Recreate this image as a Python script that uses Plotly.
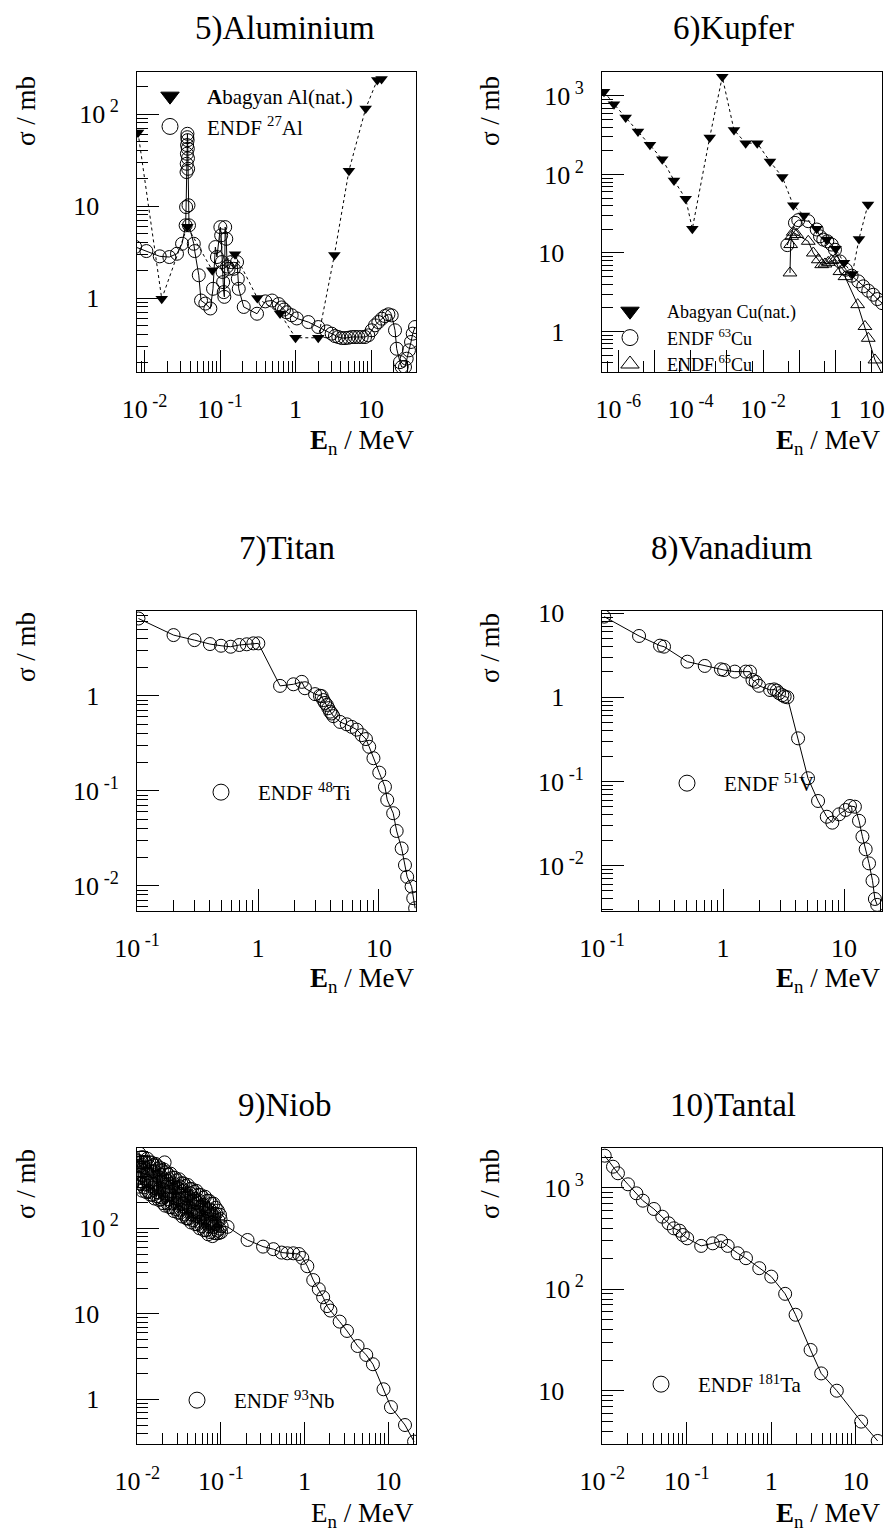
import plotly.graph_objects as go

FONT = "Liberation Serif, Times New Roman, serif"
W, H = 888, 1539
NB = "\u00a0"

# ---------------- data ----------------
# 5) Aluminium
al_abag_E = [0.0082, 0.0169, 0.0369, 0.079, 0.158, 0.312, 0.624, 1.0, 2.0, 3.27, 5.1, 8.5, 12.1, 13.8]
al_abag_s = [63, 0.98, 5.96, 2.0, 3.0, 1.0, 0.68, 0.37, 0.37, 2.93, 24.2, 115, 234, 240]
al_endf_E = [0.0075, 0.01057, 0.0159, 0.0213, 0.0269, 0.0314, 0.0350, 0.0355, 0.0360, 0.0362,
             0.0364, 0.0366, 0.0368, 0.0370, 0.0372, 0.0374, 0.0376, 0.0378, 0.0382, 0.0388,
             0.0449, 0.0462, 0.0523, 0.056, 0.0638, 0.0744, 0.0807, 0.0867, 0.091, 0.101,
             0.1035, 0.106, 0.108, 0.110, 0.112, 0.114, 0.117, 0.121, 0.124, 0.130,
             0.141, 0.152, 0.168, 0.172, 0.177, 0.206, 0.309, 0.398, 0.489, 0.598,
             0.656, 0.705, 0.764, 0.89, 1.04, 1.48, 2.0, 2.59, 3.01, 3.33,
             3.69, 4.09, 4.53, 5.01, 5.55, 6.14, 6.8, 7.53, 8.33, 9.2,
             10.2, 11.3, 12.5, 13.9, 15.3, 17.0, 18.8, 20.8, 21.9, 24.2,
             25.5, 28.2, 29.7, 31.8, 33.9, 35.7, 38.3]
al_endf_s = [3.6, 3.24, 2.84, 2.79, 3.03, 3.89, 6.17, 9.75, 23.4, 28.8,
             37, 46, 56, 61, 52, 42, 33, 25.4, 10.2, 6.17,
             3.89, 3.24, 1.77, 0.94, 0.87, 0.77, 1.26, 3.58, 2.79, 5.9,
             4.8, 2.46, 1.92, 1.49, 1.16, 1.03, 5.9, 4.4, 2.2, 2.08,
             2.46, 2.08, 2.46, 1.62, 1.26, 0.80, 0.675, 0.92, 0.94, 0.86,
             0.79, 0.75, 0.70, 0.65, 0.60, 0.548, 0.484, 0.434, 0.41, 0.386,
             0.377, 0.367, 0.367, 0.37, 0.377, 0.377, 0.377, 0.377, 0.377, 0.393,
             0.446, 0.505, 0.548, 0.596, 0.637, 0.665, 0.648, 0.446, 0.281, 0.201,
             0.178, 0.178, 0.219, 0.27, 0.333, 0.41, 0.484]

# 6) Kupfer
cu_abag_E = [4.03e-7, 7.6e-7, 1.6e-6, 3.5e-6, 7.5e-6, 1.64e-5, 3.46e-5, 7.28e-5, 1.11e-4, 3.35e-4,
             7.46e-4, 1.57e-3, 3.3e-3, 6.9e-3, 0.0155, 0.0339, 0.0682, 0.135, 0.303, 0.571,
             1.01, 1.72, 2.91, 4.46, 7.9]
cu_abag_s = [1130, 785, 531, 352, 238, 156, 84, 49, 20.3, 295,
             1750, 369, 250, 250, 146, 93, 40.6, 30, 20.3, 14.8,
             11.3, 7.5, 5.4, 15.1, 41.5]
cu63_E = [0.0467, 0.076, 0.0938, 0.177, 0.303, 0.373, 0.46, 0.593, 0.785, 0.968,
          1.33, 1.95, 2.8, 4.27, 5.86, 8.05, 11.1, 14.3, 19.5]
cu63_s = [12.6, 24.2, 26.2, 25.4, 19.9, 16.3, 14.8, 14.1, 12.8, 11.0,
          7.8, 6.14, 5.14, 4.35, 3.76, 3.31, 2.94, 2.59, 2.3]
cu65_E = [0.0553, 0.0578, 0.0617, 0.0682, 0.0847, 0.177, 0.244, 0.335, 0.416, 0.513,
          0.633, 0.785, 0.968, 1.33, 1.83, 4.1, 6.53, 8.05, 12.3, 30.0]
cu65_s = [5.57, 12.8, 16.3, 18.4, 17.2, 14.1, 10.0, 8.2, 7.1, 7.25,
          7.6, 8.0, 8.2, 5.8, 5.0, 2.2, 1.16, 0.82, 0.435, 0.2]

# 7) Titan
ti_E = [0.1026, 0.2, 0.298, 0.4, 0.494, 0.594, 0.7, 0.806, 0.914, 1.005,
        1.52, 1.96, 2.3, 2.44, 2.96, 3.25, 3.36, 3.47, 3.58, 3.7,
        3.81, 3.94, 4.06, 4.19, 4.77, 5.41, 5.95, 6.54, 7.2, 7.8,
        8.3, 9.0, 10.05, 11.2, 11.7, 13.1, 14.0, 15.4, 16.4, 17.1,
        18.6, 19.2, 19.9]
ti_s = [6.5, 4.35, 3.85, 3.5, 3.36, 3.28, 3.42, 3.48, 3.56, 3.56,
        1.27, 1.32, 1.4, 1.2, 1.04, 1.0, 0.99, 0.9, 0.84, 0.8,
        0.74, 0.68, 0.65, 0.61, 0.53, 0.50, 0.47, 0.44, 0.385, 0.35,
        0.29, 0.22, 0.155, 0.110, 0.08, 0.058, 0.0377, 0.0247, 0.0165, 0.0124,
        0.0098, 0.0074, 0.0058]

# 8) Vanadium
v_E = [0.104, 0.202, 0.301, 0.325, 0.507, 0.706, 0.96, 1.02, 1.25, 1.54,
       1.67, 1.75, 1.86, 1.98, 2.45, 2.64, 2.78, 2.9, 3.09, 3.23,
       3.4, 4.17, 5.04, 6.1, 7.2, 8.0, 9.1, 10.3, 11.2, 12.3,
       13.3, 14.2, 15.1, 16.1, 17.2, 18.0, 18.8]
v_s = [9.1, 5.36, 4.11, 4.0, 2.65, 2.36, 2.15, 2.11, 2.02, 2.02,
       2.02, 1.61, 1.53, 1.37, 1.22, 1.24, 1.2, 1.12, 1.06, 1.02,
       1.0, 0.325, 0.109, 0.0585, 0.038, 0.0323, 0.0406, 0.0457, 0.051, 0.05,
       0.034, 0.022, 0.0156, 0.0106, 0.0066, 0.004, 0.0034]

# 9) Niob  (resonance region read as two interleaved sets, plus the smooth tail)
nb_res1_E = [0.0101, 0.0104, 0.0107, 0.0110, 0.0113, 0.0116, 0.0119, 0.0122, 0.0126, 0.0130,
             0.0133, 0.0137, 0.0141, 0.0145, 0.0150, 0.0154, 0.0158, 0.0163, 0.0168, 0.0173,
             0.0178, 0.0183, 0.0188, 0.0194, 0.0200, 0.0206, 0.0212, 0.0218, 0.0225, 0.0232,
             0.0239, 0.0246, 0.0253, 0.0261, 0.0269, 0.0277, 0.0285, 0.0294, 0.0303, 0.0312,
             0.0321, 0.0331, 0.0341, 0.0351, 0.0362, 0.0373, 0.0384, 0.0395, 0.0407, 0.0419,
             0.0432, 0.0445, 0.0458, 0.0472, 0.0486, 0.0501, 0.0516, 0.0531, 0.0547, 0.0564,
             0.0581, 0.0598, 0.0616, 0.0635, 0.0654, 0.0673, 0.0694, 0.0714, 0.0736, 0.0758,
             0.0781, 0.0804, 0.0828, 0.0853, 0.0879, 0.0905, 0.0932, 0.0960, 0.0989, 0.1019]
nb_res1_s = [620, 390, 530, 330, 600, 410, 515, 330, 600, 360,
             440, 265, 525, 355, 465, 300, 465, 325, 545, 265,
             400, 290, 420, 230, 355, 285, 590, 245, 360, 220,
             375, 250, 305, 195, 335, 225, 297, 197, 298, 219,
             310, 165, 253, 192, 276, 174, 224, 130, 236, 177,
             256, 145, 209, 158, 218, 140, 201, 155, 211, 119,
             178, 135, 187, 122, 172, 129, 158, 106, 166, 116,
             146, 104, 147, 113, 148, 94, 124, 99, 128, 106]
nb_res2_E = [0.01025, 0.01055, 0.01085, 0.01115, 0.01145, 0.01175, 0.01205, 0.0124, 0.0128, 0.01315,
             0.0135, 0.0139, 0.0143, 0.01475, 0.0152, 0.0156, 0.01605, 0.01655, 0.01705, 0.01755,
             0.01805, 0.01855, 0.0191, 0.0197, 0.0203, 0.0209, 0.0215, 0.02215, 0.02285, 0.02355,
             0.02425, 0.02495, 0.0257, 0.0265, 0.0273, 0.0281, 0.02895, 0.02985, 0.03075, 0.03165,
             0.0326, 0.0336, 0.0346, 0.03565, 0.03675, 0.03785, 0.03895, 0.0401, 0.0413, 0.04255,
             0.04385, 0.04515, 0.0465, 0.0479, 0.04935, 0.05085, 0.05235, 0.0539, 0.05555, 0.05725,
             0.05895, 0.0607, 0.06255, 0.06445, 0.06635, 0.06835, 0.0704, 0.0725, 0.0747, 0.07695,
             0.07925, 0.0816, 0.08405, 0.0866, 0.0892, 0.09185, 0.0946, 0.09745, 0.1004]
nb_res2_s = [307, 753, 333, 676, 275, 677, 301, 587, 265, 651,
             273, 589, 247, 588, 246, 547, 223, 566, 237, 494,
             215, 512, 218, 474, 197, 485, 184, 453, 196, 422,
             177, 436, 176, 392, 159, 390, 168, 363, 152, 374,
             152, 336, 137, 335, 145, 312, 131, 321, 130, 289,
             117, 287, 124, 267, 112, 274, 111, 247, 100, 245,
             106, 228, 95, 234, 95, 210, 85, 209, 90, 194,
             81, 194, 88, 174, 87, 161, 88, 144, 90]
nb_tail_E = [0.12, 0.208, 0.319, 0.424, 0.532, 0.622, 0.733, 0.855, 0.94, 1.08,
             1.27, 1.48, 1.67, 1.86, 2.04, 2.63, 3.22, 4.31, 5.47, 6.57,
             8.8, 10.8, 15.9, 20.4]
nb_tail_s = [104, 73, 61, 57, 52, 51, 51, 50, 45, 36,
             24.8, 19.4, 15.6, 12.3, 10.9, 8.1, 6.3, 4.2, 3.3, 2.57,
             1.31, 0.81, 0.5, 0.32]

# 10) Tantal
ta_E = [0.01067, 0.01337, 0.0153, 0.0201, 0.0253, 0.0302, 0.0408, 0.0512, 0.0608, 0.0702,
        0.082, 0.0897, 0.101, 0.148, 0.203, 0.255, 0.305, 0.4, 0.502, 0.721,
        1.0, 1.46, 1.94, 2.92, 3.9, 5.97, 11.6, 18.2]
ta_s = [2066, 1610, 1387, 1080, 880, 745, 617, 518, 446, 398,
        377, 342, 317, 267, 283, 298, 267, 226, 202, 161,
        133, 90, 56, 25.2, 14.8, 10.0, 4.96, 3.2]

# tick labels (text, value)
PAD = NB * 3
tl_x_al = (["10<sup> -2</sup>", "10<sup> -1</sup>", "1", "10"], [1e-2, 1e-1, 1, 10])
tl_y_al = (["1" + PAD, "10" + PAD, "10<sup> 2</sup>"], [1, 10, 100])
tl_x_cu = (["10<sup> -6</sup>", "", "10<sup> -4</sup>", "", "10<sup> -2</sup>", "", "1", "10"],
           [1e-6, 1e-5, 1e-4, 1e-3, 1e-2, 1e-1, 1, 10])
tl_y_cu = (["1" + PAD, "10" + PAD, "10<sup> 2</sup>", "10<sup> 3</sup>"], [1, 10, 100, 1000])
tl_x_tv = (["10<sup> -1</sup>", "1", "10"], [0.1, 1, 10])
tl_y_ti = (["10<sup> -2</sup>", "10<sup> -1</sup>", "1" + PAD], [0.01, 0.1, 1])
tl_y_v = (["10<sup> -2</sup>", "10<sup> -1</sup>", "1" + PAD, "10" + PAD], [0.01, 0.1, 1, 10])
tl_x_nt = (["10<sup> -2</sup>", "10<sup> -1</sup>", "1", "10"], [1e-2, 1e-1, 1, 10])
tl_y_nb = (["1" + PAD, "10" + PAD, "10<sup> 2</sup>"], [1, 10, 100])
tl_y_ta = (["10" + PAD, "10<sup> 2</sup>", "10<sup> 3</sup>"], [10, 100, 1000])

titles = ["5)Aluminium", "6)Kupfer", "7)Titan", "8)Vanadium", "9)Niob", "10)Tantal"]

# ---------------- layout geometry ----------------
def px_x(v):
    return v / W


def px_y(v):
    return 1 - v / H


XL = [px_x(137), px_x(416)]
XR = [px_x(602), px_x(882)]
Y1 = [px_y(372), px_y(72)]
Y2 = [px_y(911), px_y(611)]
Y3 = [px_y(1444), px_y(1148)]


def minor_all(lo, hi):
    vals = []
    for k in range(lo, hi + 1):
        for m in range(2, 10):
            vals.append(m * 10.0 ** k)
    return vals


def axis(domain, rng, tl, minor_vals, anchor, is_x):
    return dict(
        type="log", domain=domain, range=rng, anchor=anchor, automargin=False,
        showline=True, linecolor="black", linewidth=1, mirror=True,
        ticks="inside", ticklen=22, tickwidth=1, tickcolor="black",
        tickmode="array", tickvals=tl[1], ticktext=tl[0],
        tickfont=dict(family=FONT, size=26, color="black"),
        showgrid=False, zeroline=False,
        minor=dict(ticks="inside", ticklen=11, tickwidth=1, tickcolor="black",
                   tickmode="array", tickvals=minor_vals, showgrid=False),
        ticklabelstandoff=14 if is_x else 12,
    )


fig = go.Figure()
BLACK = "black"


def endf(x, y, xa, ya, symbol="circle-open", size=13):
    fig.add_trace(go.Scatter(
        x=x, y=y, xaxis=xa, yaxis=ya, mode="lines+markers", showlegend=False,
        line=dict(color=BLACK, width=1),
        marker=dict(symbol=symbol, size=size, color=BLACK, line=dict(color=BLACK, width=1)),
        cliponaxis=True))


def abag(x, y, xa, ya):
    fig.add_trace(go.Scatter(
        x=x, y=y, xaxis=xa, yaxis=ya, mode="lines+markers", showlegend=False,
        line=dict(color=BLACK, width=1, dash="3px,3px"),
        marker=dict(symbol="triangle-down", size=11, color=BLACK),
        cliponaxis=True))


def proxy(name, symbol, legend, xa, ya):
    fig.add_trace(go.Scatter(
        x=[None], y=[None], xaxis=xa, yaxis=ya, mode="markers", name=name, legend=legend,
        showlegend=True,
        marker=dict(symbol=symbol, size=17, color=BLACK, line=dict(color=BLACK, width=1))))


# panel 1
abag(al_abag_E, al_abag_s, "x", "y")
endf(al_endf_E, al_endf_s, "x", "y")
proxy("<b>A</b>bagyan Al(nat.)", "triangle-down", "legend", "x", "y")
proxy("ENDF <sup>27</sup>Al", "circle-open", "legend", "x", "y")

# panel 2
abag(cu_abag_E, cu_abag_s, "x2", "y2")
endf(cu63_E, cu63_s, "x2", "y2")
endf(cu65_E, cu65_s, "x2", "y2", symbol="triangle-up-open", size=12)
proxy("Abagyan Cu(nat.)", "triangle-down", "legend2", "x2", "y2")
proxy("ENDF <sup>63</sup>Cu", "circle-open", "legend2", "x2", "y2")
proxy("ENDF <sup>65</sup>Cu", "triangle-up-open", "legend2", "x2", "y2")

# panel 3
endf(ti_E, ti_s, "x3", "y3")
proxy("ENDF <sup>48</sup>Ti", "circle-open", "legend3", "x3", "y3")

# panel 4
endf(v_E, v_s, "x4", "y4")
proxy("ENDF <sup>51</sup>V", "circle-open", "legend4", "x4", "y4")

# panel 5
nb_pairs = sorted(zip(nb_res1_E + nb_res2_E + nb_tail_E, nb_res1_s + nb_res2_s + nb_tail_s))
nb_E = [p[0] for p in nb_pairs]
nb_s = [p[1] for p in nb_pairs]
endf(nb_E, nb_s, "x5", "y5")
proxy("ENDF <sup>93</sup>Nb", "circle-open", "legend5", "x5", "y5")

# panel 6
endf(ta_E, ta_s, "x6", "y6")
proxy("ENDF <sup>181</sup>Ta", "circle-open", "legend6", "x6", "y6")


def leg(x_sym, y_top, size=21):
    return dict(
        x=px_x(x_sym - 37), y=px_y(y_top), xref="paper", yref="paper",
        xanchor="left", yanchor="top", bgcolor="rgba(0,0,0,0)", borderwidth=0,
        font=dict(family=FONT, size=size, color="black"), itemwidth=64,
        tracegroupgap=0, itemclick=False)


annotations = []
title_pos = [(285, 28), (733, 28), (287, 548), (732, 548), (285, 1105), (733, 1105)]
for t, (tx, ty) in zip(titles, title_pos):
    annotations.append(dict(text=t, x=px_x(tx), y=px_y(ty), xref="paper", yref="paper",
                            showarrow=False, xanchor="center", yanchor="middle",
                            font=dict(family=FONT, size=33, color="black")))

sig_pos = [(26, 111), (490, 111), (26, 647), (490, 648), (26, 1184), (490, 1184)]
for sx, sy in sig_pos:
    annotations.append(dict(text="σ / mb", x=px_x(sx), y=px_y(sy), xref="paper", yref="paper",
                            showarrow=False, xanchor="center", yanchor="middle", textangle=-90,
                            font=dict(family=FONT, size=27, color="black")))

en_pos = [(416, 442, True), (882, 442, True), (416, 980, True), (882, 980, True),
          (416, 1515, False), (882, 1515, True)]
for ex, ey, bold in en_pos:
    txt = ("<b>E</b>" if bold else "E") + "<sub>n</sub> / MeV"
    annotations.append(dict(text=txt, x=px_x(ex), y=px_y(ey), xref="paper", yref="paper",
                            showarrow=False, xanchor="right", yanchor="middle",
                            font=dict(family=FONT, size=27, color="black")))

fig.update_layout(
    template="none",
    width=W, height=H, margin=dict(l=0, r=0, t=0, b=0, pad=0, autoexpand=False),
    paper_bgcolor="white", plot_bgcolor="white",
    font=dict(family=FONT, color="black"),
    xaxis=axis(XL, [-2.1, 1.596], tl_x_al, minor_all(-3, 1), "y", True),
    yaxis=axis(Y1, [-0.804, 2.457], tl_y_al, minor_all(-1, 2), "x", False),
    xaxis2=axis(XR, [-6.45, 1.285], tl_x_cu, [5 * 10.0 ** k for k in range(-7, 2)], "y2", True),
    yaxis2=axis(Y1, [-0.515, 3.304], tl_y_cu, minor_all(-1, 3), "x2", False),
    xaxis3=axis(XL, [-1.001, 1.306], tl_x_tv, minor_all(-1, 1), "y3", True),
    yaxis3=axis(Y2, [-2.266, 0.892], tl_y_ti, minor_all(-3, 0), "x3", False),
    xaxis4=axis(XR, [-1.001, 1.314], tl_x_tv, minor_all(-1, 1), "y4", True),
    yaxis4=axis(Y2, [-2.541, 1.026], tl_y_v, minor_all(-3, 1), "x4", False),
    xaxis5=axis(XL, [-2.004, 1.333], tl_x_nt, minor_all(-2, 1), "y5", True),
    yaxis5=axis(Y3, [-0.523, 2.939], tl_y_nb, minor_all(-1, 2), "x5", False),
    xaxis6=axis(XR, [-2.004, 1.311], tl_x_nt, minor_all(-2, 1), "y6", True),
    yaxis6=axis(Y3, [0.475, 3.391], tl_y_ta, minor_all(0, 3), "x6", False),
    legend=leg(170, 76),
    legend2=leg(630, 293, size=18),
    legend3=leg(221, 772),
    legend4=leg(687, 763),
    legend5=leg(197, 1380),
    legend6=leg(661, 1364),
    annotations=annotations,
    showlegend=True,
)

fig.write_html("out.html")
